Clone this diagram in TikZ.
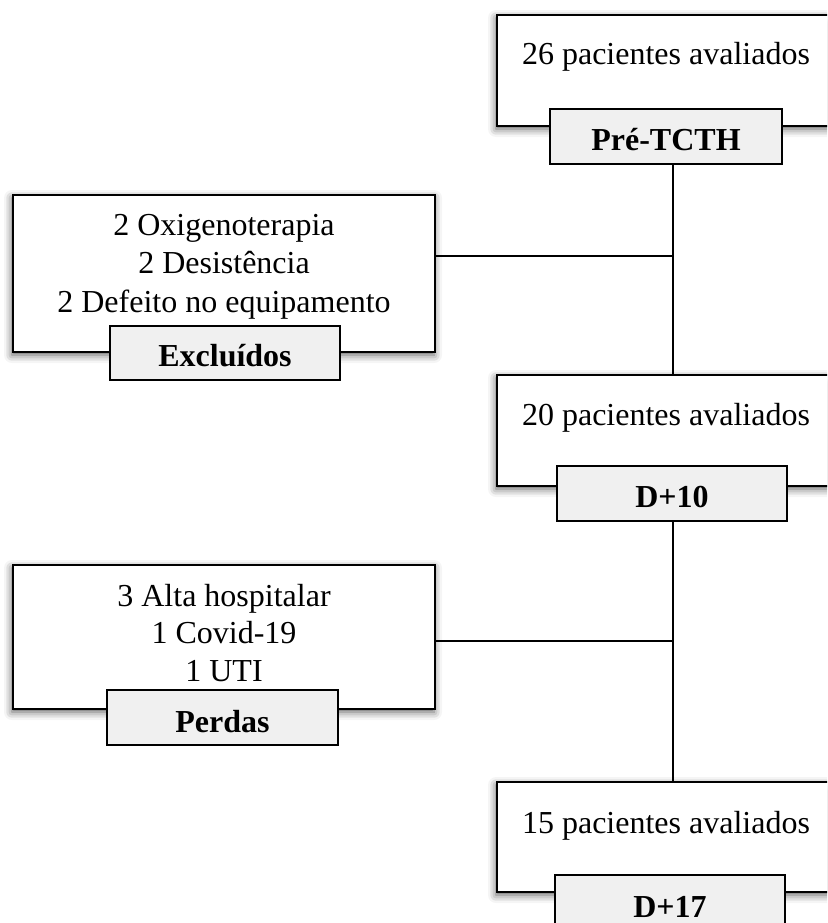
\documentclass[tikz,border=0pt]{standalone}
\usepackage{fontspec}
\setmainfont{Liberation Serif}
\usetikzlibrary{shadows.blur}
\tikzset{
  mainbox/.style={draw=black, line width=2.7pt, fill=white, inner sep=0pt,
    blur shadow={shadow xshift=-1pt, shadow yshift=-3pt, shadow blur radius=8pt, shadow opacity=65}},
  tagbox/.style={draw=black, line width=2.3pt, fill=black!6, inner sep=0pt},
  txt/.style={font=\fontsize{32}{38.5}\selectfont, inner sep=0pt, anchor=base},
  tagtxt/.style={font=\fontsize{32}{38.5}\selectfont\bfseries, inner sep=0pt, anchor=base},
  link/.style={draw=black, line width=1.2pt}
}
\begin{document}
\begin{tikzpicture}[x=1pt,y=-1pt]
\useasboundingbox (0,0) rectangle (827,923);
\clip (0,0) rectangle (827,923);
% right column
\node[mainbox, minimum width=338pt, minimum height=111pt] (b1) at (666,70.5) {};
\node[txt] (t1) at (666,65) {26 pacientes avaliados};
\node[tagbox, minimum width=232pt, minimum height=55pt] (g1) at (666,136.5) {};
\node[tagtxt] (gt1) at (666,150) {Pré-TCTH};

\node[mainbox, minimum width=338pt, minimum height=111pt] (b2) at (666,430.5) {};
\node[txt] (t2) at (666,425) {20 pacientes avaliados};
\node[tagbox, minimum width=230pt, minimum height=55pt] (g2) at (672,493.5) {};
\node[tagtxt] (gt2) at (672,507) {D+10};

\node[mainbox, minimum width=338pt, minimum height=110pt] (b3) at (666,837) {};
\node[txt] (t3) at (666,833) {15 pacientes avaliados};
\node[tagbox, minimum width=230pt, minimum height=60pt] (g3) at (670,905) {};
\node[tagtxt] (gt3) at (670,917) {D+17};

% left column
\node[mainbox, minimum width=422pt, minimum height=157pt] (e) at (224,273.5) {};
\node[txt] (e1) at (224,235) {2 Oxigenoterapia};
\node[txt] (e2) at (224,273.5) {2 Desistência};
\node[txt] (e3) at (224,312) {2 Defeito no equipamento};
\node[tagbox, minimum width=230pt, minimum height=54pt] (eg) at (225,353) {};
\node[tagtxt] (egt) at (225,366) {Excluídos};

\node[mainbox, minimum width=422pt, minimum height=144pt] (p) at (224,637) {};
\node[txt] (p1) at (224,606) {3 Alta hospitalar};
\node[txt] (p2) at (224,643.5) {1 Covid-19};
\node[txt] (p3) at (224,681) {1 UTI};
\node[tagbox, minimum width=231pt, minimum height=55pt] (pg) at (222.5,717.5) {};
\node[tagtxt] (pgt) at (222.5,732) {Perdas};

% connectors
\coordinate (j1) at (673,256);
\coordinate (j2) at (673,641);
\draw[link] (j1 |- g1.south) -- (j1 |- b2.north);
\draw[link] (j2 |- g2.south) -- (j2 |- b3.north);
\draw[link] (j1 -| e.east) -- (j1);
\draw[link] (j2 -| p.east) -- (j2);
\end{tikzpicture}
\end{document}
